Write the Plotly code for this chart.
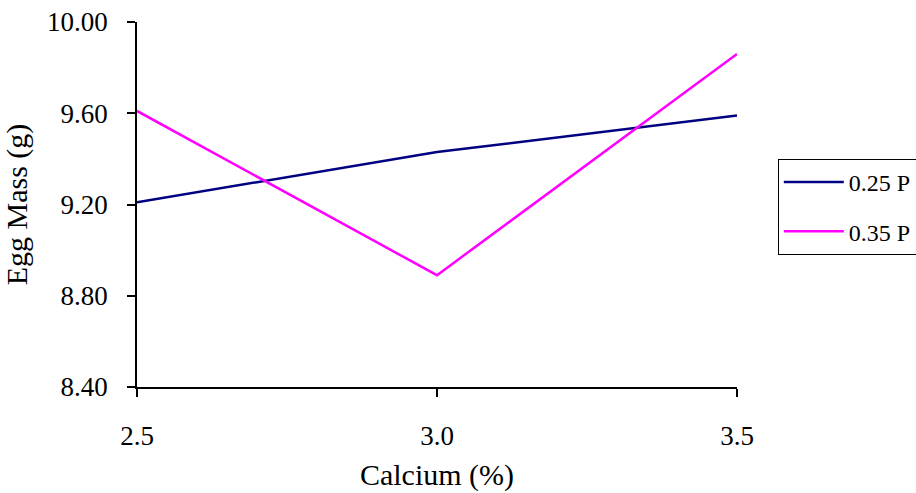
import plotly.graph_objects as go

calcium = [2.5, 3.0, 3.5]
p025 = [9.21, 9.43, 9.59]
p035 = [9.61, 8.89, 9.86]
series_names = ["0.25 P", "0.35 P"]
y_ticks = [8.40, 8.80, 9.20, 9.60, 10.00]
x_ticks = [2.5, 3.0, 3.5]

FONT = "Liberation Serif"

fig = go.Figure()
fig.add_trace(go.Scatter(x=calcium, y=p025, mode="lines", name=series_names[0],
                         legendgroup="a", line=dict(color="#000080", width=2.5)))
fig.add_trace(go.Scatter(x=calcium, y=p035, mode="lines", name=series_names[1],
                         legendgroup="b", line=dict(color="#FF00FF", width=2.5)))

fig.update_layout(
    width=916, height=493,
    margin=dict(l=137, r=179, t=22, b=106, autoexpand=False),
    paper_bgcolor="white", plot_bgcolor="white",
    font=dict(family=FONT, color="black", size=27),
    showlegend=True,
    legend=dict(x=1.068, y=0.625, xanchor="left", yanchor="top",
                bordercolor="black", borderwidth=1, bgcolor="white",
                font=dict(family=FONT, size=24, color="black"),
                traceorder="grouped", tracegroupgap=15, itemwidth=60),
)
fig.update_xaxes(
    range=[2.5, 3.5], tickvals=x_ticks, ticktext=[f"{v:.1f}" for v in x_ticks],
    showline=True, linecolor="black", linewidth=1.5, ticks="outside", ticklen=8,
    tickcolor="black", tickwidth=1.5, showgrid=False, zeroline=False,
    tickfont=dict(family=FONT, size=27), ticklabelstandoff=16,
    title=dict(text="Calcium (%)", font=dict(family=FONT, size=30), standoff=14),
)
fig.update_yaxes(
    range=[8.4, 10.0], tickvals=y_ticks, ticktext=[f"{v:.2f}" for v in y_ticks],
    showline=True, linecolor="black", linewidth=1.5, ticks="outside", ticklen=8,
    tickcolor="black", tickwidth=1.5, showgrid=False, zeroline=False,
    tickfont=dict(family=FONT, size=27), ticklabelstandoff=14,
    title=dict(text="Egg Mass (g)", font=dict(family=FONT, size=30), standoff=12),
)

fig.write_html("out.html")
